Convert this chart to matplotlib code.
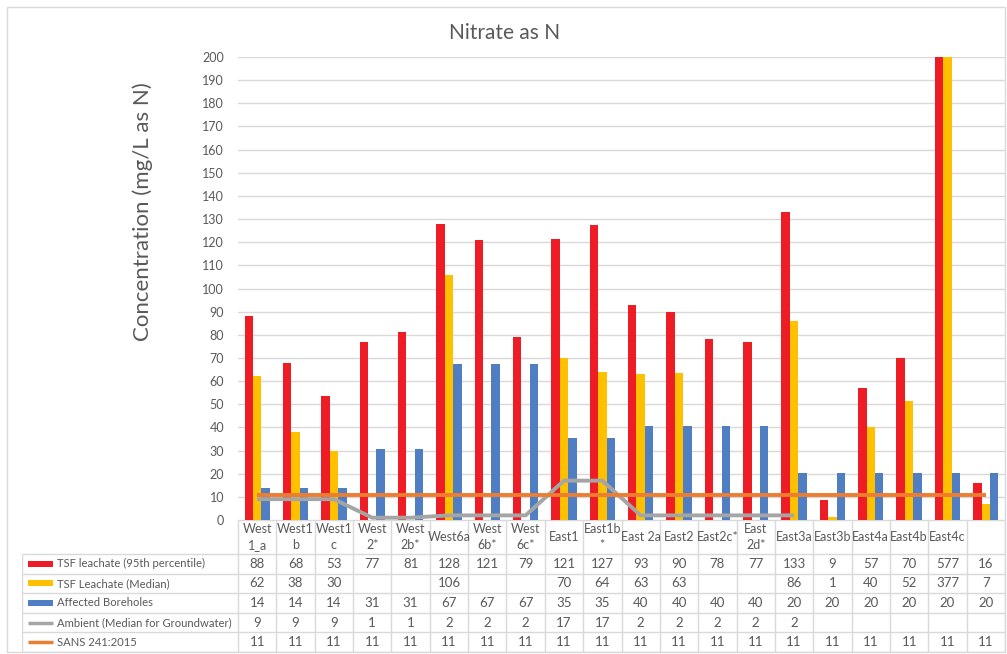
import numpy as np
import matplotlib
matplotlib.use("Agg")
import matplotlib.pyplot as plt
from matplotlib.patches import Rectangle

plt.rcParams['font.family'] = ['Lato', 'DejaVu Sans']

# ---------------------------------------------------------------
# DATA
# ---------------------------------------------------------------
categories = ["West\n1_a", "West1\nb", "West1\nc", "West\n2*", "West\n2b*", "West6a",
              "West\n6b*", "West\n6c*", "East1", "East1b\n*", "East 2a", "East2",
              "East2c*", "East\n2d*", "East3a", "East3b", "East4a", "East4b", "East4c", ""]

tsf_95 = [88, 68, 53.4, 77, 81, 128, 121, 79, 121.4, 127.4, 93, 90, 78, 77, 133, 8.6, 57, 70, 577, 16]
tsf_median = [62.4, 38, 30, np.nan, np.nan, 106, np.nan, np.nan, 70, 64, 63, 63.4, np.nan, np.nan,
              86, 1.4, 40, 51.6, 377, 7]
boreholes = [13.8, 13.8, 13.8, 30.6, 30.6, 67.3, 67.3, 67.3, 35.4, 35.4, 40.4, 40.4, 40.4, 40.4,
             20.3, 20.3, 20.3, 20.3, 20.3, 20.3]
ambient = [9, 9, 9, 1, 1, 2, 2, 2, 17, 17, 2, 2, 2, 2, 2, np.nan, np.nan, np.nan, np.nan, np.nan]
sans = [11] * 20

series_names = ["TSF leachate (95th percentile)", "TSF Leachate (Median)", "Affected Boreholes",
                "Ambient (Median for Groundwater)", "SANS 241:2015"]

RED = "#EE1D25"
YELLOW = "#FFC000"
BLUE = "#4F7EC2"
GREY = "#A5A5A5"
ORANGE = "#ED7D31"
TXT = "#595959"
GRID = "#D9D9D9"

# ---------------------------------------------------------------
# LAYOUT (pixels)
# ---------------------------------------------------------------
W, H = 1007, 654
def fx(px):
    return px / W
def fy(py):
    return 1 - py / H

plot_l, plot_r, plot_t, plot_b = 238, 1005, 57, 520
tab_l, tab_b = 22, 652
head_h = 34
row_h = (tab_b - plot_b - head_h) / 5.0

fig = plt.figure(figsize=(W / 100, H / 100), dpi=100)

# outer border of the chart
fig.patches.append(Rectangle((fx(7), fy(652)), fx(1005) - fx(7), fy(7) - fy(652),
                             transform=fig.transFigure, fill=False, edgecolor=GRID, lw=1))

ax = fig.add_axes([fx(plot_l), fy(plot_b), fx(plot_r) - fx(plot_l), fy(plot_t) - fy(plot_b)])
n = len(categories)
x = np.arange(n)
bw = 0.22

ax.bar(x - bw, tsf_95, bw, color=RED, zorder=3)
ax.bar(x, tsf_median, bw, color=YELLOW, zorder=3)
ax.bar(x + bw, boreholes, bw, color=BLUE, zorder=3)
ax.plot(x, ambient, color=GREY, lw=2.8, zorder=4, solid_capstyle='butt')
ax.plot(x, sans, color=ORANGE, lw=2.8, zorder=4, solid_capstyle='butt')

ax.set_xlim(-0.5, n - 0.5)
ax.set_ylim(0, 200)
ax.set_yticks(range(0, 201, 10))
ax.yaxis.grid(True, color=GRID, lw=1, zorder=0)
ax.set_axisbelow(True)
ax.set_xticks([])
for s in ax.spines.values():
    s.set_visible(False)
ax.tick_params(axis='y', length=0, pad=10, labelsize=9, labelcolor=TXT)
ax.patch.set_alpha(0)

fig.text(fx(505), fy(33), "Nitrate as N", ha='center', va='center', fontsize=15, color=TXT)
fig.text(fx(143), fy(212), "Concentration (mg/L as N)", ha='center', va='center',
         rotation=90, fontsize=16, color=TXT)

# ---------------------------------------------------------------
# DATA TABLE
# ---------------------------------------------------------------
cw = (plot_r - plot_l) / n
tax = fig.add_axes([fx(tab_l), fy(tab_b), fx(plot_r) - fx(tab_l), fy(plot_b) - fy(tab_b)])
left_x = -0.5 - (plot_l - tab_l) / cw
tax.set_xlim(left_x, n - 0.5)
tax.set_ylim(tab_b, plot_b)
tax.axis('off')

row_top = plot_b + head_h
# horizontal lines
tax.hlines(plot_b, -0.5, n - 0.5, color=GRID, lw=1)
for k in range(6):
    tax.hlines(row_top + k * row_h, left_x, n - 0.5, color=GRID, lw=1)
# vertical lines
tax.vlines(left_x, row_top, tab_b, color=GRID, lw=1)
for i in range(n + 1):
    tax.vlines(i - 0.5, plot_b, tab_b, color=GRID, lw=1)

for i, c in enumerate(categories):
    tax.text(i, plot_b + head_h / 2, c, ha='center', va='center', fontsize=9, color=TXT,
             linespacing=1.35)

all_series = [tsf_95, tsf_median, boreholes, ambient, sans]
key_x0 = left_x + (28 - tab_l) / cw
key_x1 = left_x + (53 - tab_l) / cw
txt_x = left_x + (57 - tab_l) / cw
for r, (name, vals) in enumerate(zip(series_names, all_series)):
    yc = row_top + (r + 0.5) * row_h
    if r < 3:
        col = [RED, YELLOW, BLUE][r]
        tax.add_patch(Rectangle((key_x0, yc - 3), key_x1 - key_x0, 6, color=col, lw=0))
    else:
        col = [GREY, ORANGE][r - 3]
        tax.plot([key_x0, key_x1], [yc, yc], color=col, lw=2.5, solid_capstyle='butt')
    tax.text(txt_x, yc, name, ha='left', va='center', fontsize=8.1, color=TXT)
    for i, v in enumerate(vals):
        if not np.isnan(v):
            tax.text(i, yc, "%d" % int(round(v)), ha='center', va='center', fontsize=9.5, color=TXT)

fig.savefig("out.png", dpi=100)
